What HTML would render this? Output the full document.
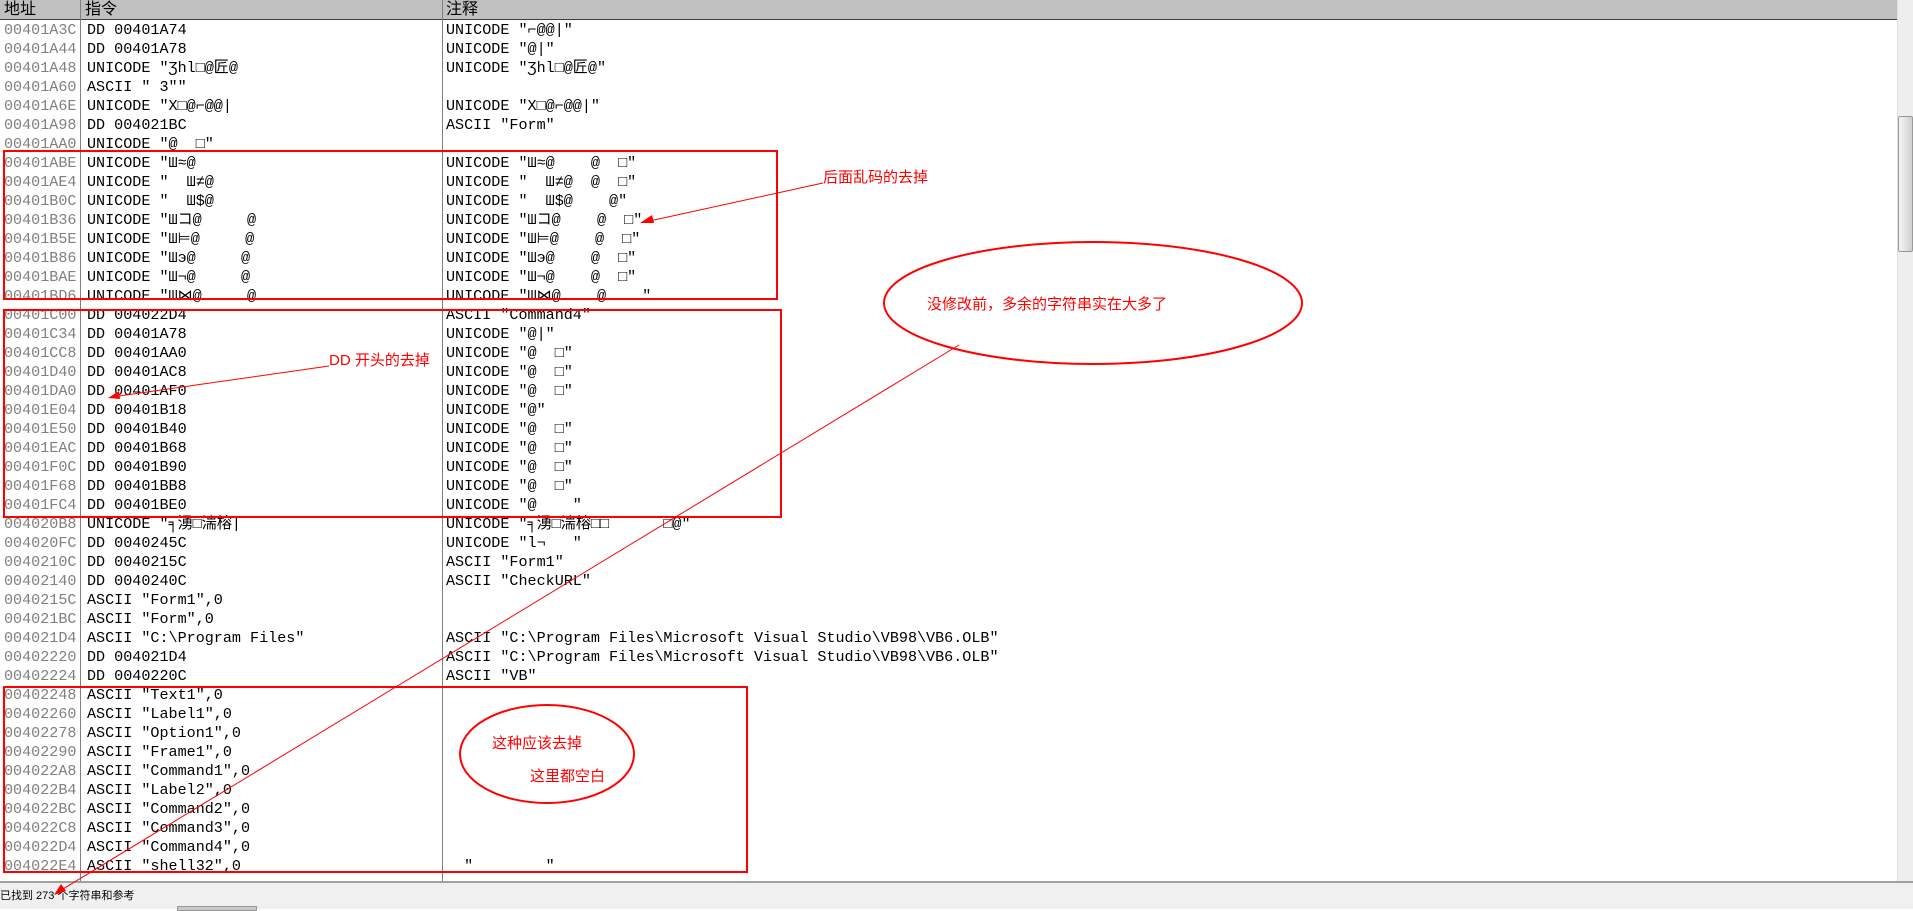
<!DOCTYPE html>
<html><head><meta charset="utf-8"><style>
*{margin:0;padding:0;box-sizing:border-box}
body{width:1913px;height:909px;background:#fff;position:relative;overflow:hidden;font-family:"Liberation Mono","Noto Sans CJK SC",monospace;font-size:15.1px}
#hdr{position:absolute;left:0;top:0;width:1897px;height:20px;background:#c0c0c0;border-bottom:1px solid #404040;font-family:"Liberation Sans","Noto Sans CJK SC",sans-serif;font-size:16px;line-height:20px}
#hdr span{position:absolute;top:0}
.vl{position:absolute;top:0;width:1px;height:881px;background:#808080}
#rows{position:absolute;left:0;top:21px;width:1897px;height:860px;overflow:hidden}
.r{position:absolute;left:0;height:19px;line-height:19px;white-space:pre;width:1897px}
.r b{font-weight:normal;position:absolute;left:4px;color:#808080}
.r i{font-style:normal;position:absolute;left:87px;color:#000}
.r u{text-decoration:none;position:absolute;left:446px;color:#000}
#sb{position:absolute;left:1897px;top:0;width:16px;height:881px;background:#eeeeee;border-left:1px solid #e0e0e0}
#thumb{position:absolute;left:1898px;top:116px;width:15px;height:136px;background:linear-gradient(90deg,#f4f4f4,#d0d0d0);border:1px solid #999;border-radius:2px}
#status{position:absolute;left:0;top:881px;width:1913px;height:28px;background:#f0f0f0;border-top:2px solid #a0a0a0;font-family:"Liberation Sans","Noto Sans CJK SC",sans-serif;font-size:11px;line-height:22px;padding-left:0}
svg{position:absolute;left:0;top:0}
</style></head><body>
<div id="hdr"><span style="left:4px">地址</span><span style="left:85px">指令</span><span style="left:446px">注释</span></div>
<div id="rows">
<div class="r" style="top:0px"><b>00401A3C</b><i>DD 00401A74</i><u>UNICODE "⌐@@|"</u></div>
<div class="r" style="top:19px"><b>00401A44</b><i>DD 00401A78</i><u>UNICODE "@|"</u></div>
<div class="r" style="top:38px"><b>00401A48</b><i>UNICODE "Ʒhl□@匠@</i><u>UNICODE "Ʒhl□@匠@"</u></div>
<div class="r" style="top:57px"><b>00401A60</b><i>ASCII " 3""</i></div>
<div class="r" style="top:76px"><b>00401A6E</b><i>UNICODE "X□@⌐@@|</i><u>UNICODE "X□@⌐@@|"</u></div>
<div class="r" style="top:95px"><b>00401A98</b><i>DD 004021BC</i><u>ASCII "Form"</u></div>
<div class="r" style="top:114px"><b>00401AA0</b><i>UNICODE "@  □"</i></div>
<div class="r" style="top:133px"><b>00401ABE</b><i>UNICODE "Ш≈@</i><u>UNICODE "Ш≈@    @  □"</u></div>
<div class="r" style="top:152px"><b>00401AE4</b><i>UNICODE "  Ш≠@</i><u>UNICODE "  Ш≠@  @  □"</u></div>
<div class="r" style="top:171px"><b>00401B0C</b><i>UNICODE "  Ш$@</i><u>UNICODE "  Ш$@    @"</u></div>
<div class="r" style="top:190px"><b>00401B36</b><i>UNICODE "Шコ@     @</i><u>UNICODE "Шコ@    @  □"</u></div>
<div class="r" style="top:209px"><b>00401B5E</b><i>UNICODE "Ш⊨@     @</i><u>UNICODE "Ш⊨@    @  □"</u></div>
<div class="r" style="top:228px"><b>00401B86</b><i>UNICODE "Шэ@     @</i><u>UNICODE "Шэ@    @  □"</u></div>
<div class="r" style="top:247px"><b>00401BAE</b><i>UNICODE "Ш¬@     @</i><u>UNICODE "Ш¬@    @  □"</u></div>
<div class="r" style="top:266px"><b>00401BD6</b><i>UNICODE "Ш⋈@     @</i><u>UNICODE "Ш⋈@    @    "</u></div>
<div class="r" style="top:285px"><b>00401C00</b><i>DD 004022D4</i><u>ASCII "Command4"</u></div>
<div class="r" style="top:304px"><b>00401C34</b><i>DD 00401A78</i><u>UNICODE "@|"</u></div>
<div class="r" style="top:323px"><b>00401CC8</b><i>DD 00401AA0</i><u>UNICODE "@  □"</u></div>
<div class="r" style="top:342px"><b>00401D40</b><i>DD 00401AC8</i><u>UNICODE "@  □"</u></div>
<div class="r" style="top:361px"><b>00401DA0</b><i>DD 00401AF0</i><u>UNICODE "@  □"</u></div>
<div class="r" style="top:380px"><b>00401E04</b><i>DD 00401B18</i><u>UNICODE "@"</u></div>
<div class="r" style="top:399px"><b>00401E50</b><i>DD 00401B40</i><u>UNICODE "@  □"</u></div>
<div class="r" style="top:418px"><b>00401EAC</b><i>DD 00401B68</i><u>UNICODE "@  □"</u></div>
<div class="r" style="top:437px"><b>00401F0C</b><i>DD 00401B90</i><u>UNICODE "@  □"</u></div>
<div class="r" style="top:456px"><b>00401F68</b><i>DD 00401BB8</i><u>UNICODE "@  □"</u></div>
<div class="r" style="top:475px"><b>00401FC4</b><i>DD 00401BE0</i><u>UNICODE "@    "</u></div>
<div class="r" style="top:494px"><b>004020B8</b><i>UNICODE "╕湧□湍榕|</i><u>UNICODE "╕湧□湍榕□□      □@"</u></div>
<div class="r" style="top:513px"><b>004020FC</b><i>DD 0040245C</i><u>UNICODE "l¬   "</u></div>
<div class="r" style="top:532px"><b>0040210C</b><i>DD 0040215C</i><u>ASCII "Form1"</u></div>
<div class="r" style="top:551px"><b>00402140</b><i>DD 0040240C</i><u>ASCII "CheckURL"</u></div>
<div class="r" style="top:570px"><b>0040215C</b><i>ASCII "Form1",0</i></div>
<div class="r" style="top:589px"><b>004021BC</b><i>ASCII "Form",0</i></div>
<div class="r" style="top:608px"><b>004021D4</b><i>ASCII "C:\Program Files"</i><u>ASCII "C:\Program Files\Microsoft Visual Studio\VB98\VB6.OLB"</u></div>
<div class="r" style="top:627px"><b>00402220</b><i>DD 004021D4</i><u>ASCII "C:\Program Files\Microsoft Visual Studio\VB98\VB6.OLB"</u></div>
<div class="r" style="top:646px"><b>00402224</b><i>DD 0040220C</i><u>ASCII "VB"</u></div>
<div class="r" style="top:665px"><b>00402248</b><i>ASCII "Text1",0</i></div>
<div class="r" style="top:684px"><b>00402260</b><i>ASCII "Label1",0</i></div>
<div class="r" style="top:703px"><b>00402278</b><i>ASCII "Option1",0</i></div>
<div class="r" style="top:722px"><b>00402290</b><i>ASCII "Frame1",0</i></div>
<div class="r" style="top:741px"><b>004022A8</b><i>ASCII "Command1",0</i></div>
<div class="r" style="top:760px"><b>004022B4</b><i>ASCII "Label2",0</i></div>
<div class="r" style="top:779px"><b>004022BC</b><i>ASCII "Command2",0</i></div>
<div class="r" style="top:798px"><b>004022C8</b><i>ASCII "Command3",0</i></div>
<div class="r" style="top:817px"><b>004022D4</b><i>ASCII "Command4",0</i></div>
<div class="r" style="top:836px"><b>004022E4</b><i>ASCII "shell32",0</i><u>  "        "</u></div>
</div>
<div class="vl" style="left:80px"></div>
<div class="vl" style="left:442px"></div>
<div id="sb"></div>
<div id="thumb"></div>
<div id="status"><span style="position:absolute;left:0;top:2px">已找到 273 个字符串和参考</span><div style="position:absolute;left:177px;top:23px;width:80px;height:5px;background:#c8c8c8;border:1px solid #999"></div></div>
<svg width="1913" height="909" viewBox="0 0 1913 909">
<g fill="none" stroke="#f00">
<rect x="4" y="151" width="773" height="148" stroke-width="2"/>
<rect x="4" y="310" width="777" height="207" stroke-width="2"/>
<rect x="4" y="687" width="743" height="185" stroke-width="2"/>
<ellipse cx="1093" cy="303" rx="209" ry="61" stroke-width="2"/>
<ellipse cx="547" cy="754" rx="87" ry="49" stroke-width="2"/>
<line x1="823" y1="183" x2="645" y2="222" stroke-width="1"/>
<line x1="329" y1="366" x2="112" y2="397" stroke-width="1"/>
<line x1="959" y1="345" x2="58" y2="892" stroke-width="1"/>
</g>
<g fill="#f00">
<polygon points="640,223 652,215 654,223"/>
<polygon points="108,398 119,391 120,399"/>
<polygon points="54,895 61,884 66,891"/>
</g>
<g fill="#f00" font-family="Liberation Sans,Noto Sans CJK SC,sans-serif" font-size="15">
<text x="823" y="182">后面乱码的去掉</text>
<text x="329" y="365">DD 开头的去掉</text>
<text x="927" y="309">没修改前，多余的字符串实在大多了</text>
<text x="492" y="748">这种应该去掉</text>
<text x="530" y="781">这里都空白</text>
</g>
</svg>
</body></html>
